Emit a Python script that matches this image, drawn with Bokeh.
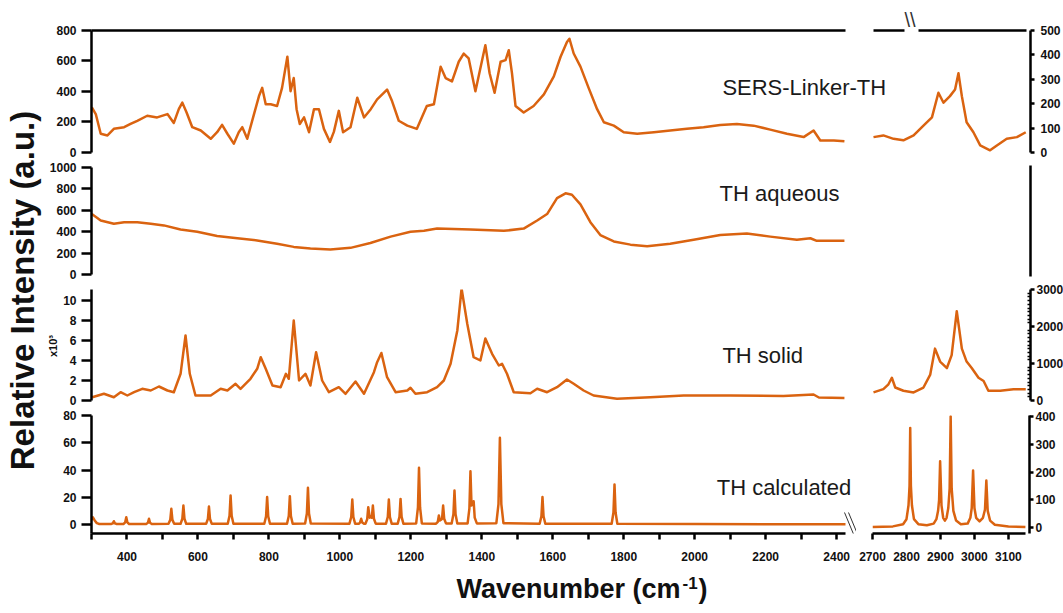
import math
from bokeh.plotting import figure
from bokeh.models import Range1d, LinearAxis, FixedTicker, Label, Arrow, GridPlot, Title
from bokeh.layouts import row
from bokeh.embed import file_html
from bokeh.resources import INLINE

# ---------------- data ----------------
sers_x = [301, 312, 326, 345, 363, 392, 410, 429, 457, 485, 514, 532, 546, 556, 568, 584, 608, 636, 654, 668,
          683, 701, 715, 725, 739, 758, 772, 781, 791, 805, 823, 837, 852, 861, 870, 878, 887, 899, 913, 927,
          941, 955, 972, 983, 997, 1009, 1030, 1049, 1068, 1087, 1105, 1133, 1147, 1166, 1190, 1217, 1245, 1265, 1284, 1298,
          1316, 1335, 1349, 1363, 1382, 1401, 1410, 1422, 1436, 1453, 1467, 1476, 1485, 1495, 1518, 1546, 1575, 1603, 1622, 1640,
          1647, 1659, 1678, 1701, 1725, 1744, 1772, 1800, 1838, 1885, 1931, 1978, 2025, 2072, 2119, 2166, 2213, 2260, 2307, 2335,
          2354, 2392, 2422]
sers_y = [295, 252, 123, 112, 155, 166, 187, 208, 241, 230, 252, 194, 284, 327, 262, 166, 144, 90, 133, 181,
          123, 58, 133, 166, 90, 252, 370, 424, 316, 316, 305, 424, 628, 402, 488, 284, 187, 230, 133, 284,
          284, 155, 69, 135, 273, 133, 166, 359, 230, 284, 348, 413, 337, 208, 176, 155, 305, 316, 563, 488,
          466, 595, 649, 617, 402, 606, 703, 520, 392, 595, 606, 671, 520, 305, 262, 305, 381, 499, 628, 725,
          746, 649, 563, 424, 284, 198, 176, 133, 123, 133, 144, 155, 166, 181, 187, 176, 150, 123, 101, 144,
          79, 79, 73]
sers_rx = [2700, 2729, 2759, 2788, 2818, 2847, 2872, 2891, 2906, 2925, 2940, 2950, 2960, 2974, 2994, 3014, 3043, 3063, 3092, 3122, 3148]
sers_ry = [63, 70, 56, 50, 70, 110, 144, 245, 204, 231, 258, 325, 231, 124, 83, 29, 9, 29, 56, 63, 83]

aq_x = [301, 326, 363, 392, 429, 467, 504, 551, 598, 654, 711, 767, 823, 870, 917, 973, 1030, 1086, 1143, 1199,
        1237, 1274, 1368, 1462, 1518, 1556, 1584, 1612, 1636, 1654, 1678, 1706, 1734, 1772, 1819, 1866, 1931, 1997, 2072, 2147,
        2213, 2288, 2326, 2344, 2422]
aq_y = [565, 505, 475, 489, 489, 475, 459, 420, 399, 360, 339, 318, 288, 258, 243, 234, 249, 294, 354, 399,
        408, 429, 420, 408, 429, 505, 565, 714, 759, 745, 655, 489, 369, 309, 279, 264, 288, 324, 369, 384,
        354, 324, 339, 315, 315]

sol_x = [302, 335, 363, 382, 401, 420, 443, 467, 490, 514, 532, 551, 565, 577, 593, 636, 664, 683, 706, 720,
         748, 767, 777, 791, 810, 833, 848, 856, 870, 885, 903, 917, 933, 950, 969, 997, 1016, 1044, 1068, 1096,
         1105, 1117, 1133, 1157, 1190, 1199, 1213, 1246, 1274, 1293, 1312, 1331, 1343, 1359, 1377, 1396, 1410, 1429, 1448, 1457,
         1471, 1490, 1537, 1556, 1584, 1612, 1640, 1659, 1687, 1715, 1781, 1875, 1969, 2100, 2250, 2335, 2350, 2422]
sol_y = [0.33, 0.67, 0.33, 0.83, 0.5, 0.83, 1.17, 1.0, 1.4, 1.0, 0.83, 2.67, 6.5, 2.67, 0.5, 0.5, 1.17, 1.0, 1.67, 1.17,
         2.17, 3.17, 4.33, 3.17, 1.5, 1.33, 2.67, 2.17, 8.0, 2.0, 2.67, 1.5, 4.83, 2.0, 0.83, 1.33, 0.67, 1.9, 0.67, 2.83,
         3.83, 4.75, 2.33, 0.83, 1.0, 1.27, 0.67, 0.83, 1.33, 2.0, 3.67, 7.0, 11.2, 7.67, 4.33, 4.0, 6.2, 4.67, 3.5, 3.67,
         2.67, 0.83, 0.73, 1.17, 0.83, 1.33, 2.1, 1.67, 1.0, 0.5, 0.17, 0.33, 0.5, 0.5, 0.45, 0.6, 0.3, 0.25]
sol_rx = [2700, 2729, 2744, 2754, 2764, 2788, 2818, 2847, 2867, 2881, 2896, 2916, 2930, 2945, 2960, 2974, 2989, 3009, 3024, 3038, 3073, 3112, 3148]
sol_ry = [219, 307, 438, 614, 351, 263, 219, 351, 701, 1402, 1052, 877, 1227, 2412, 1402, 1052, 877, 614, 526, 263, 263, 307, 307]

calc_x = [300, 304, 309, 315, 322, 355, 360, 363, 366, 371, 390, 395, 398, 401, 406,
          454, 459, 462, 465, 470, 517, 522, 525, 528, 533, 551, 556, 559, 562, 567,
          623, 628, 631, 634, 639, 684, 689, 692, 695, 700, 787, 792, 795, 798, 803,
          851, 856, 859, 862, 867, 902, 907, 910, 913, 918, 1027, 1032, 1035, 1038, 1043,
          1054, 1057, 1060, 1063, 1068, 1072, 1077, 1080, 1084, 1087, 1090, 1093, 1096, 1101,
          1130, 1135, 1138, 1141, 1146, 1163, 1168, 1171, 1174, 1179, 1215, 1220, 1223, 1226, 1231,
          1271, 1276, 1279, 1282, 1285, 1288, 1291, 1294, 1299, 1315, 1320, 1323, 1326, 1331,
          1360, 1365, 1368, 1371, 1374, 1377, 1380, 1386, 1441, 1447, 1451, 1455, 1461,
          1563, 1568, 1571, 1574, 1579, 1766, 1771, 1774, 1777, 1782, 2000, 2425]
calc_y = [3.5, 5.2, 3.0, 1.0, 0.4, 0.4, 0.8, 2.4, 0.8, 0.4, 0.4, 1.6, 5.4, 1.6, 0.4,
          0.4, 1.3, 4.2, 1.3, 0.4, 0.5, 3.4, 11.5, 3.4, 0.5, 0.5, 4.2, 13.9, 4.2, 0.5,
          0.5, 4.0, 13.2, 4.0, 0.5, 0.6, 6.4, 21.3, 6.4, 0.6, 0.6, 6.0, 20.1, 6.0, 0.6,
          0.6, 6.2, 20.8, 6.2, 0.6, 0.7, 8.1, 26.9, 8.1, 0.7, 0.6, 5.5, 18.3, 5.5, 0.6,
          0.6, 1.5, 4.2, 1.5, 0.6, 0.6, 3.8, 12.7, 5.0, 6.0, 5.0, 13.9, 4.2, 0.6,
          0.6, 5.5, 18.3, 5.5, 0.6, 0.6, 5.6, 18.8, 5.6, 0.6, 0.8, 12.5, 41.6, 12.5, 0.8,
          0.6, 2.0, 6.6, 3.0, 3.5, 4.2, 13.9, 4.2, 0.8, 0.8, 7.5, 25.0, 7.5, 0.8,
          0.8, 11.7, 39.1, 14.0, 15.0, 17.1, 5.1, 0.8, 1.0, 15.0, 63.6, 15.0, 1.0,
          0.6, 6.0, 20.1, 6.0, 0.6, 0.6, 8.8, 29.4, 8.8, 0.6, 0.3, 0.2]
calc_rx = [2700, 2760, 2790, 2800, 2806, 2809, 2811, 2813, 2816, 2822, 2835, 2860, 2880, 2888, 2893, 2896, 2899, 2903, 2908, 2913,
           2918, 2923, 2927, 2930, 2933, 2938, 2946, 2960, 2980, 2988, 2992, 2996, 3000, 3005, 3015, 3025, 3031, 3035, 3039, 3046,
           3060, 3100, 3150]
calc_ry = [2, 4, 12, 30, 80, 150, 359, 150, 80, 30, 12, 8, 14, 30, 60, 100, 239, 80, 35, 25,
           35, 70, 140, 401, 140, 60, 25, 12, 14, 35, 70, 205, 70, 35, 22, 35, 65, 169, 60, 25,
           10, 4, 2]

panel_names = ["SERS-Linker-TH", "TH aqueous", "TH solid", "TH calculated"]
left_ticks = [[0, 200, 400, 600, 800], [0, 200, 400, 600, 800, 1000], [0, 2, 4, 6, 8, 10], [0, 20, 40, 60, 80]]
right_ticks_1 = [0, 100, 200, 300, 400, 500]
right_ticks_3 = [0, 1000, 2000, 3000]
right_ticks_4 = [0, 100, 200, 300, 400]
x_ticks_left = [400, 600, 800, 1000, 1200, 1400, 1600, 1800, 2000, 2200, 2400]
x_minor_left = [300, 500, 700, 900, 1100, 1300, 1500, 1700, 1900, 2100, 2300]
x_ticks_right = [2700, 2800, 2900, 3000, 3100]

# ---------------- styling / geometry ----------------
ORANGE = "#DA6310"
INK = "#111111"
FONT = "Liberation Sans"
LW = 2.5
XL0, XL1 = 300, 2425
XR0, XR1 = 2700, 3162
FW_L, FW_R, GAP = 754, 157, 28
SCALE_L = FW_L / (XL1 - XL0)
SCALE_R = FW_R / (XR1 - XR0)
FW_FULL = FW_L + GAP + FW_R
LB = 44            # left border of the plot figures (title column is LB wide)
RB = 36
FW_4L = 768        # frame of the bottom-left panel (reaches into the gap)


def base_fig(fw, fh, left, right, top, bottom, xr, yr):
    p = figure(frame_width=fw, frame_height=fh, min_border_left=left, min_border_right=right,
               min_border_top=top, min_border_bottom=bottom, x_range=Range1d(*xr), y_range=Range1d(*yr),
               x_axis_location=None, y_axis_location=None, toolbar_location=None, title=None,
               output_backend="svg")
    p.outline_line_color = None
    p.grid.grid_line_color = None
    p.background_fill_color = "white"
    p.border_fill_color = "white"
    return p


def yaxis(ticks, bounds=None, range_name="default", tick_out=10, standoff=5, minor=None):
    ax = LinearAxis(y_range_name=range_name, ticker=FixedTicker(ticks=ticks, minor_ticks=minor or []))
    ax.axis_line_width = LW
    ax.axis_line_color = "black"
    ax.major_tick_line_width = LW
    ax.major_tick_out = tick_out
    ax.major_tick_in = 0
    ax.minor_tick_line_width = 1.5
    ax.minor_tick_in = 3
    ax.minor_tick_out = 0
    ax.major_label_text_font = FONT
    ax.major_label_text_font_style = "bold"
    ax.major_label_text_font_size = "12px"
    ax.major_label_text_color = INK
    ax.major_label_standoff = standoff
    if bounds is not None:
        ax.bounds = bounds
    return ax


def xaxis(ticks, minor, bounds=None):
    ax = LinearAxis(ticker=FixedTicker(ticks=ticks, minor_ticks=minor))
    ax.axis_line_width = LW
    ax.major_tick_line_width = LW
    ax.major_tick_out = 6
    ax.major_tick_in = 0
    ax.minor_tick_line_width = LW
    ax.minor_tick_out = 6
    ax.minor_tick_in = 0
    ax.major_label_text_font = FONT
    ax.major_label_text_font_style = "bold"
    ax.major_label_text_font_size = "12px"
    ax.major_label_text_color = INK
    ax.major_label_standoff = 12
    if bounds is not None:
        ax.bounds = bounds
    return ax


def line_axis(p, bounds, range_name):
    # a bare axis line (no ticks, no labels) used for the top frame line
    ax = LinearAxis(x_range_name=range_name, ticker=FixedTicker(ticks=[]), bounds=bounds)
    ax.axis_line_width = LW
    ax.major_tick_out = 0
    ax.major_tick_in = 0
    ax.minor_tick_out = 0
    ax.minor_tick_in = 0
    ax.major_label_standoff = 0
    p.add_layout(ax, "above")


def name_label(p, x, y, text):
    p.add_layout(Label(x=x, y=y, text=text, text_font=FONT, text_font_size="22px",
                       text_color="#1a1a1a", text_baseline="middle"))


def seg(p, x0, y0, x1, y1, width=1, color="#333333"):
    p.add_layout(Arrow(end=None, x_start=x0, y_start=y0, x_end=x1, y_end=y1, start_units="screen",
                       end_units="screen", line_width=width, line_color=color))


def full_row(top, fh, bottom, yl, yr):
    p = base_fig(FW_FULL, fh, LB, RB, top, bottom, (XL0, XL0 + FW_FULL / SCALE_L), yl)
    p.extra_x_ranges = {"r": Range1d(XR0 - (FW_L + GAP) / SCALE_R, XR1)}
    p.extra_y_ranges = {"r": Range1d(*yr)}
    return p


# ---------------- row 1: SERS ----------------
p1 = full_row(30, 123, 7, (-6.6, 800), (-4.1, 500))
p1.line(sers_x, sers_y, line_color=ORANGE, line_width=LW, line_join="round")
p1.line(sers_rx, sers_ry, line_color=ORANGE, line_width=LW, line_join="round", x_range_name="r", y_range_name="r")
p1.add_layout(yaxis(left_ticks[0], bounds=(0, 800)), "left")
p1.add_layout(yaxis(right_ticks_1, bounds=(0, 500), range_name="r", tick_out=4, standoff=6), "right")
line_axis(p1, (XL0, XL1), "default")
line_axis(p1, (2700, 2791), "r")
line_axis(p1, (2832, 3150), "r")
p1.add_layout(Title(text="\\\\", align="left", offset=FW_L + GAP + 31, standoff=0, text_font=FONT,
                    text_font_size="20px", text_font_style="normal", text_color="#333333"), "above")
name_label(p1, 2078, 426, panel_names[0])

# ---------------- row 2: aqueous ----------------
p2 = full_row(5, 111, 5, (-18.7, 1018.7), (0, 1))
p2.line(aq_x, aq_y, line_color=ORANGE, line_width=LW, line_join="round")
p2.add_layout(yaxis(left_ticks[1], bounds=(0, 1000)), "left")
p2.add_layout(yaxis([], range_name="r", tick_out=0), "right")
name_label(p2, 2070, 757, panel_names[1])

# ---------------- row 3: solid ----------------
p3 = full_row(8, 113, 6, (-0.2, 11.1), (-54, 3000))
p3.line(sol_x, sol_y, line_color=ORANGE, line_width=LW, line_join="round")
p3.line(sol_rx, sol_ry, line_color=ORANGE, line_width=LW, line_join="round", x_range_name="r", y_range_name="r")
ax3 = yaxis(left_ticks[2], bounds=(0, 11.1))
ax3.axis_label = "x10\u00b3"
ax3.axis_label_text_font = FONT
ax3.axis_label_text_font_size = "11px"
ax3.axis_label_text_font_style = "bold"
ax3.axis_label_text_color = INK
ax3.axis_label_standoff = 1
p3.add_layout(ax3, "left")
minor3 = [v for v in range(100, 3000, 100) if v % 1000 != 0]
p3.add_layout(yaxis(right_ticks_3, bounds=(0, 3000), range_name="r", tick_out=4, standoff=2, minor=minor3), "right")
name_label(p3, 2078, 4.5, panel_names[2])

# ---------------- row 4: calculated (two figures for the broken x axis) ----------------
p4l = base_fig(FW_4L, 118, LB, 0, 7, 37, (XL0, XL0 + FW_4L / SCALE_L), (-6.6, 80))
p4l.line(calc_x, calc_y, line_color=ORANGE, line_width=LW, line_join="round")
p4l.add_layout(yaxis(left_ticks[3]), "left")
p4l.add_layout(xaxis(x_ticks_left, x_minor_left, bounds=(XL0, XL1)), "below")
name_label(p4l, 2062, 27.2, panel_names[3])
seg(p4l, 753, 21, 768, -15)
seg(p4l, 757, 21, 772, -15)

p4r = base_fig(FW_R, 118, 870 - 88 - FW_4L, RB, 7, 37, (XR0, XR1), (-21.6, 403.6))
p4r.line(calc_rx, calc_ry, line_color=ORANGE, line_width=LW, line_join="round")
p4r.add_layout(yaxis(right_ticks_4, tick_out=4, standoff=2), "right")
p4r.add_layout(xaxis(x_ticks_right, [], bounds=(2700, 3150)), "below")

# ---------------- x title strip (frame aligned with the panels: 88..1027) ----------------
pb = figure(frame_width=FW_FULL, frame_height=43, min_border_left=LB, min_border_right=RB,
            min_border_top=0, min_border_bottom=0, x_range=Range1d(0, 1), y_range=Range1d(0, 1), title=None,
            x_axis_location=None, y_axis_location=None, toolbar_location=None, output_backend="svg")
pb.outline_line_color = None
pb.grid.grid_line_color = None
pb.add_layout(Label(x=589, y=10, x_units="screen", y_units="screen", text="Wavenumber (cm", text_align="right",
                    text_font=FONT, text_font_size="27px", text_font_style="bold", text_color=INK))
pb.add_layout(Label(x=591, y=25, x_units="screen", y_units="screen", text="-1", text_font=FONT,
                    text_font_size="17px", text_font_style="bold", text_color=INK))
pb.add_layout(Label(x=607, y=10, x_units="screen", y_units="screen", text=")", text_font=FONT,
                    text_font_size="27px", text_font_style="bold", text_color=INK))

# ---------------- y title column ----------------
pt = figure(frame_width=LB, frame_height=613, min_border_left=0, min_border_right=0, min_border_top=0,
            min_border_bottom=0, x_range=Range1d(0, 1), y_range=Range1d(0, 1), title=None,
            x_axis_location=None, y_axis_location=None, toolbar_location=None, output_backend="svg")
pt.outline_line_color = None
pt.grid.grid_line_color = None
pt.add_layout(Label(x=22, y=323, x_units="screen", y_units="screen", text="Relative Intensity (a.u.)",
                    angle=math.pi / 2, text_align="center", text_baseline="middle", text_font=FONT,
                    text_font_size="33px", text_font_style="bold", text_color=INK))

grid = GridPlot(children=[(p1, 0, 0, 1, 2), (p2, 1, 0, 1, 2), (p3, 2, 0, 1, 2),
                          (p4l, 3, 0), (p4r, 3, 1), (pb, 4, 0, 1, 2)], toolbar_location=None)
layout = row(pt, grid)

open("out.html", "w").write(file_html(layout, INLINE))
